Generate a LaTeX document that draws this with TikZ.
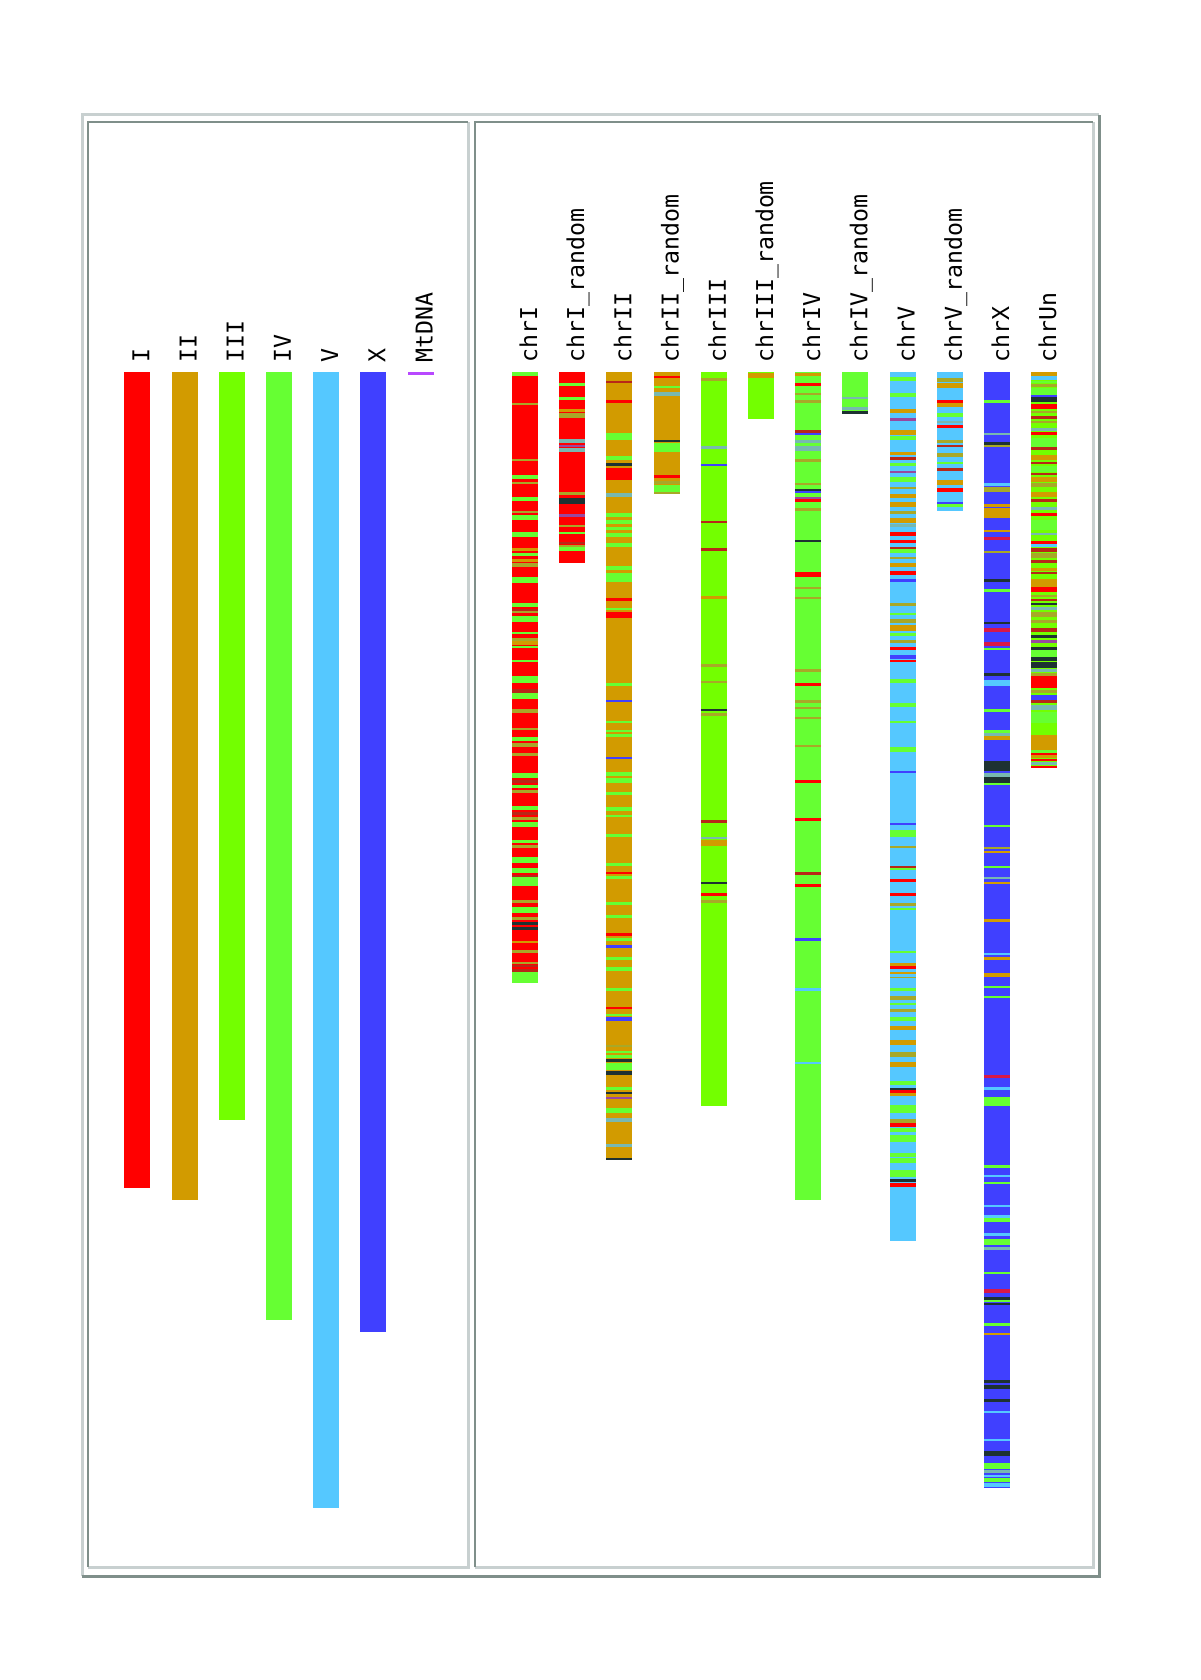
\documentclass[tikz,border=0pt]{standalone}
\usepackage{fontspec}
\setmonofont{DejaVu Sans Mono}
\definecolor{cR}{HTML}{FF0000}
\definecolor{cO}{HTML}{D29B00}
\definecolor{cG}{HTML}{73FF00}
\definecolor{cL}{HTML}{66FF33}
\definecolor{cB}{HTML}{55C8FF}
\definecolor{cX}{HTML}{4040FF}
\definecolor{cK}{HTML}{1E3232}
\definecolor{cD}{HTML}{B82818}
\definecolor{cV}{HTML}{A8A828}
\definecolor{cT}{HTML}{78B8B0}
\definecolor{cP}{HTML}{9848A0}
\definecolor{cC}{HTML}{D81848}
\definecolor{cM}{HTML}{B848FF}
\definecolor{grisclair}{HTML}{C8D0D0}
\definecolor{grisfonce}{HTML}{7F8F8A}
\begin{document}
\begin{tikzpicture}[x=0.5pt,y=-0.5pt]
	% Styles
	\tikzstyle{etiquette}=[rotate=90,anchor=base west,inner sep=0pt,font=\ttfamily\fontsize{11.6}{12}\selectfont]
	\tikzstyle{clair}=[draw=grisclair,line width=1.5pt]
	\tikzstyle{fonce}=[draw=grisfonce,line width=1pt]
	% Dimensions
	\def\Haut{372}
	\def\Larg{26}
	\def\Pas{47.2}
	\def\ColG{124.3}
	\def\ColD{512}
	% Barre a bandes : colonne, fin, couleur de fond, bandes
	\def\Chromo#1#2#3#4{%
		\fill[#3] ({\ColD+#1*\Pas},\Haut) rectangle ({\ColD+#1*\Pas+\Larg},#2);
		\foreach \a/\b/\c in {#4}{\fill[\c] ({\ColD+#1*\Pas},\a) rectangle ({\ColD+#1*\Pas+\Larg},\b);}
	}
	\useasboundingbox (0,0) rectangle (1200,1680);
	% Cadres
	\draw[clair] (82,1576) -- (82,115) -- (1099,115);
	\draw[fonce,line width=1.5pt] (82,1576) -- (1099,1576) -- (1099,115);
	\draw[clair] (468,122) -- (468,1567) -- (88,1567);
	\draw[fonce] (88,1567) -- (88,122) -- (468,122);
	\draw[clair] (1093,122) -- (1093,1567) -- (475,1567);
	\draw[fonce] (475,1567) -- (475,122) -- (1093,122);
	% Panneau gauche
	\foreach \nom/\fin/\coul [count=\i from 0] in {I/1188/cR,II/1200/cO,III/1120/cG,IV/1320/cL,V/1508/cB,X/1332/cX}{
		\fill[\coul] ({\ColG+\i*\Pas},\Haut) rectangle ({\ColG+\i*\Pas+\Larg},\fin);
		\node[etiquette] (eg\i) at ({\ColG+\i*\Pas+\Larg/2+12},363) {\nom};
	}
	\fill[cM] ({\ColG+6*\Pas},\Haut-0.5) rectangle ({\ColG+6*\Pas+\Larg},375);
	\node[etiquette] (eg6) at ({\ColG+6*\Pas+\Larg/2+12},363) {MtDNA};
	% Panneau droit : etiquettes
	\foreach \nom [count=\i from 0] in {chrI,chrI\_random,chrII,chrII\_random,chrIII,chrIII\_random,chrIV,chrIV\_random,chrV,chrV\_random,chrX,chrUn}{
		\node[etiquette] (ed\i) at ({\ColD+\i*\Pas+\Larg/2+12},363) {\nom};
	}
	% Panneau droit : barres
	\Chromo{0}{983}{cR}{372/376/cL, 402.7/404.7/cV, 458.7/461/cV, 475/479.3/cL, 481.7/484/cV, 496.7/501.3/cL, 510.7/512.7/cV, 515/520/cL, 532/536.7/cL, 548/550.7/cO, 553/556/cL, 559/562/cO, 563/567/cV, 577/583/cL, 602.7/607.3/cL, 608.7/610.5/cD, 611/613.3/cV, 616/621.7/cL, 631.7/634/cL, 638.3/640.7/cV, 640.7/645/cO, 646/648.3/cL, 660/662/cL, 676/683.3/cL, 689.3/692.7/cD, 693.3/699.3/cL, 709.3/713.3/cV, 728.3/730/cV, 737.3/741/cL, 743/746.7/cV, 753.3/756/cV, 772.7/778.3/cL, 780/783/cD, 785/788/cL, 790/793.3/cV, 806/810/cL, 812/815/cD, 817/820/cV, 822/826.7/cL, 840/843/cL, 845/848.3/cV, 856.7/862.7/cL, 868.3/873.3/cL, 875/877.3/cD, 877.3/886/cL, 900/902.7/cV, 906.7/912.7/cL, 916.7/920/cV, 921.7/925/cK, 927/930/cK, 940.7/943.3/cO, 950/952.7/cV, 961.7/964/cV, 965/967.3/cD, 969.3/971.7/cD, 971.7/983/cL}
	\Chromo{1}{562.5}{cR}{383.3/386/cL, 397.3/400/cL, 409.3/411.7/cO, 413.3/418.3/cV, 439.3/442.7/cT, 445/447.3/cP, 448.3/451.7/cT, 491.7/495/cV, 498.3/504/cK, 514/517.3/cP, 525/527.3/cV, 531.7/534/cL, 541.7/543.5/cD, 544.5/546.7/cV, 547.3/550.7/cL}
	\Chromo{2}{1160}{cO}{380.7/383.3/cD, 400/402.7/cR, 432.7/440/cL, 456/460/cL, 463.3/466/cK, 468.3/480/cR, 493.3/497.3/cT, 513.3/516.7/cL, 520/524/cL, 526.7/530/cL, 533.3/536.7/cL, 542.7/546.7/cL, 566/570/cL, 573.3/581.7/cL, 598.3/600.7/cR, 608.3/610/cL, 612.3/617.7/cR, 683.3/686/cL, 700/702.3/cX, 721/723.3/cL, 730/732/cL, 734/736.7/cL, 756.7/759/cX, 771.7/776/cL, 778.3/782.7/cL, 791.7/795/cL, 806.7/810.7/cL, 815/817.3/cL, 834/836.7/cL, 862.7/866/cL, 871.7/874.3/cR, 876/879.3/cL, 901.7/905/cL, 915/918.3/cL, 933.3/936/cR, 938.3/940.7/cL, 945/947.7/cX, 957.3/960/cL, 967.3/970.7/cL, 988.3/990.7/cL, 1007.3/1009.3/cR, 1014/1016/cL, 1016.7/1020.7/cX, 1045/1047.3/cV, 1050.7/1053.3/cL, 1055/1058.3/cL, 1059.3/1061.7/cK, 1062.7/1070/cL, 1071/1075.3/cK, 1086.7/1090/cL, 1091.7/1094/cK, 1096.7/1099/cP, 1108.3/1113.3/cL, 1118.3/1121.7/cT, 1144/1147.3/cT, 1157.7/1160/cK}
	\Chromo{3}{494.3}{cO}{376/378.3/cR, 386/388.3/cL, 391.7/396/cT, 440/442.3/cK, 442.7/451.7/cL, 475/478.3/cR, 480.7/484/cV, 485/491.7/cL, 492/494.3/cV}
	\Chromo{4}{1105.7}{cG}{378.3/381/cV, 446/449.3/cT, 463.7/466/cX, 520.7/523.3/cD, 548.3/550.7/cD, 596/598.7/cO, 664/666.7/cV, 680.7/683.3/cV, 709/711.3/cK, 713.3/716/cV, 820/822.7/cD, 836.7/839.3/cT, 840/846/cO, 881.7/884/cK, 893.3/895.7/cR, 900/902.7/cV}
	\Chromo{5}{419}{cG}{373.3/378.3/cO}
	\Chromo{6}{1200}{cL}{373.3/376/cO, 383.3/386/cR, 392.7/395/cV, 400/402.7/cV, 430/432.7/cD, 432.7/435/cX, 440/442.7/cT, 446/450.7/cT, 459/461.7/cV, 482.7/485/cV, 489.3/491.3/cK, 491.3/493.3/cX, 496.7/499/cP, 499/501.7/cR, 508.3/510.7/cV, 540/541.7/cK, 572.3/576.7/cR, 586.7/589.3/cV, 596.7/598.7/cV, 669.3/671.7/cV, 683.3/686/cR, 700/702.7/cV, 706.7/709.3/cV, 716.7/719.3/cV, 745/747.3/cV, 780/782.7/cR, 818.3/820.7/cR, 872.3/875/cD, 884/886.7/cR, 938.3/940.7/cX, 988.3/990.7/cB, 1061.7/1064/cB}
	\Chromo{7}{413.6}{cL}{396.7/399.3/cT, 406.7/410/cT, 411/413.6/cK}
	\Chromo{8}{1240.7}{cB}{377.3/380.7/cL, 393.3/396.7/cL, 409.3/413.3/cO, 418.3/420.7/cP, 430/435/cO, 436/440/cL, 451.7/455/cO, 456.7/460/cD, 463.3/466/cL, 470.7/473.3/cP, 477.3/481.7/cL, 486.7/489.3/cV, 494/498.3/cO, 501.7/506.7/cO, 510.7/514/cV, 518.3/522.7/cO, 524/526.7/cT, 531.7/536/cR, 540/542.7/cR, 546.7/549/cD, 549.3/553.3/cL, 556.7/559.3/cV, 562.7/566.7/cO, 570.7/575/cR, 579.3/581.7/cX, 603.3/605.7/cV, 612.7/615/cL, 619.3/623.3/cV, 625/630.7/cO, 633.3/636/cL, 640/642.7/cV, 647.3/650/cR, 655/659.3/cX, 660/662/cR, 679.3/683.3/cL, 702.7/706.7/cL, 721/723.3/cL, 747.3/751.7/cL, 771/772.7/cX, 822.7/825/cX, 830/836.7/cL, 846/848.3/cV, 865.7/868/cD, 868/870/cL, 879.3/881.7/cR, 893.3/895.7/cR, 903.3/906/cV, 907.7/910/cL, 950.7/952.7/cL, 963.3/966/cO, 966/969.3/cR, 971.7/974/cO, 976.7/978.3/cV, 988.3/990.7/cL, 996/1000/cV, 1002.7/1005/cL, 1009.3/1011.7/cV, 1016.7/1020.7/cL, 1026/1030/cO, 1040/1045/cO, 1051.7/1056.7/cV, 1061.7/1066.7/cO, 1080.7/1085/cL, 1087.7/1090/cK, 1090/1093/cR, 1093/1096/cO, 1105/1113.3/cL, 1119.3/1123/cV, 1123/1126.7/cR, 1128.3/1131.7/cL, 1135/1141.7/cL, 1153.3/1156.7/cL, 1158.3/1162.7/cL, 1170/1177.3/cL, 1179.3/1181.7/cK, 1183.3/1186.7/cR}
	\Chromo{9}{510.7}{cB}{378.3/381.7/cV, 383.3/388.3/cO, 400/402.7/cR, 403.3/406.7/cO, 413.3/417.3/cL, 420.7/423.3/cT, 425/428.3/cR, 440/443.3/cV, 445/447.3/cD, 453.3/456.7/cV, 461.7/464/cL, 468.3/470.7/cD, 480/485/cO, 488.3/491.7/cR, 501.7/504/cX, 504/506.7/cL}
	\Chromo{10}{1488.3}{cX}{400/402.7/cL, 432.7/435/cT, 441.7/445/cK, 445/446.7/cV, 482.7/486/cB, 486.7/491.7/cV, 504/506.7/cO, 508.3/518.3/cO, 530/531.7/cO, 536.7/540/cC, 550.7/553.3/cV, 579.3/581.7/cK, 589.3/591.7/cL, 621.7/624/cK, 628.3/631.7/cC, 641.7/646/cC, 648.3/650/cL, 673.3/676/cK, 680/686/cB, 709.3/711.7/cL, 730/732.7/cL, 733.3/736/cT, 736/740/cO, 760.7/770.7/cK, 773.3/776.7/cT, 777.3/782.7/cK, 783.3/785/cL, 825/827.3/cL, 846.7/849.3/cV, 850.7/853.3/cO, 866/868/cL, 876.7/879.3/cT, 882/884.3/cO, 919.3/921.7/cO, 952.7/955.3/cB, 956.7/960/cO, 973.3/976.7/cO, 986/988.3/cL, 996/998.3/cL, 1075/1078.3/cC, 1087.3/1090/cB, 1096.7/1105.7/cL, 1165/1167.7/cL, 1175/1177.3/cB, 1181.7/1184.3/cL, 1205/1207.3/cB, 1215/1218.3/cB, 1218.3/1221.7/cL, 1233.3/1236/cB, 1239.3/1245/cL, 1246.7/1250/cT, 1271.7/1274/cL, 1289.3/1293.3/cC, 1297.3/1300/cK, 1300/1302/cL, 1302.7/1304.7/cK, 1323.3/1325.7/cL, 1333.3/1335.3/cO, 1380/1382.7/cK, 1385/1389.3/cK, 1399/1401.7/cK, 1411/1413.3/cB, 1439.3/1441.3/cB, 1451/1456/cK, 1463.3/1469.3/cL, 1470/1473.3/cT, 1475/1477.3/cB, 1478.3/1481.7/cL, 1483.3/1486.7/cB}
	\Chromo{11}{768.3}{cG}{372/376/cO, 376/380/cB, 380.7/382.7/cL, 384/386.7/cV, 388.3/395/cL, 395/397.3/cX, 397.3/401.7/cK, 404/409.3/cR, 410.7/413.3/cV, 416/419.3/cD, 420.7/423.3/cV, 428.3/430.7/cT, 431.7/435/cR, 438.3/446.7/cL, 447.3/450/cD, 455/460/cO, 461.7/464/cD, 466/471.7/cL, 473.3/475/cD, 476.7/481.7/cO, 482.7/486.7/cV, 491.7/496.7/cO, 499.3/501.7/cD, 506.7/510/cT, 512.7/516/cR, 520/530/cL, 532.7/535/cT, 540.7/544/cR, 544/546.7/cB, 548.3/551.7/cD, 553.3/558.3/cV, 560/562.7/cD, 568.3/570.7/cO, 571.7/574/cD, 579.3/586.7/cO, 586.7/591.7/cR, 595/597.3/cV, 598.7/600.7/cD, 602.7/605/cK, 606.7/610/cT, 611.7/616.7/cV, 620/623.3/cV, 628.3/631.7/cD, 635/638.3/cK, 640/643.3/cP, 646.7/650/cK, 650/656.7/cL, 657.3/660.7/cK, 661.7/668.3/cK, 669.3/671.7/cT, 673.3/676/cV, 676/688.3/cR, 690/693.3/cV, 695/700/cX, 700/703.3/cD, 705/710/cT, 711.7/723.3/cL, 735/750/cO, 750/753.3/cL, 753.3/755/cR, 755/758.3/cO, 759.3/761/cR, 761.7/765/cT, 766/768.3/cR}
\end{tikzpicture}
\end{document}
